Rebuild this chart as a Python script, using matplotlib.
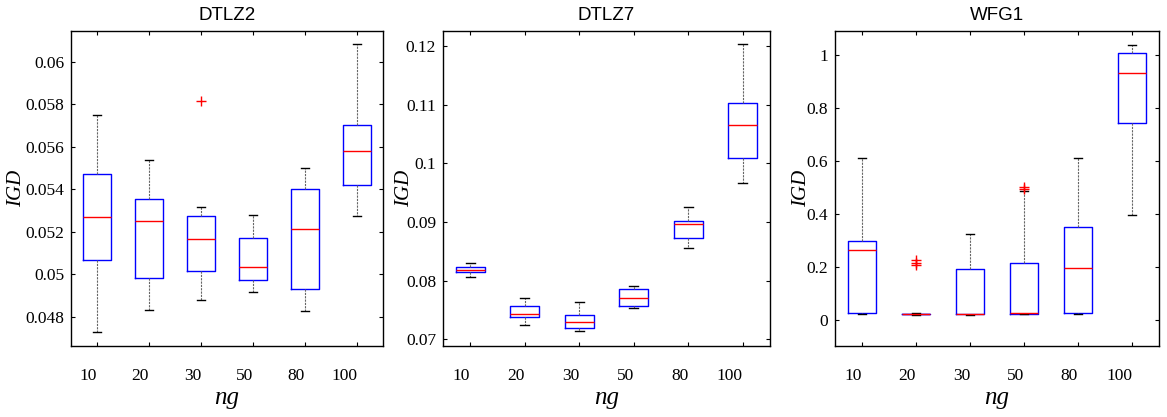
import matplotlib.pyplot as plt
from matplotlib.ticker import FormatStrFormatter

# ng settings shared by every panel
ng_labels = ['10', '20', '30', '50', '80', '100']

# DTLZ2 box statistics
dtlz2_whislo = [0.04729, 0.04833, 0.04879, 0.04916, 0.04828, 0.05273]
dtlz2_q1 = [0.05067, 0.04982, 0.05014, 0.04973, 0.04932, 0.05419]
dtlz2_med = [0.05268, 0.05250, 0.05164, 0.05034, 0.05212, 0.05581]
dtlz2_q3 = [0.05471, 0.05356, 0.05276, 0.05172, 0.05403, 0.05702]
dtlz2_whishi = [0.05749, 0.05538, 0.05318, 0.05281, 0.05501, 0.06083]
dtlz2_fliers = [[], [], [0.05816], [], [], []]

# DTLZ7
dtlz7_whislo = [0.08071, 0.07244, 0.07147, 0.07533, 0.08559, 0.09659]
dtlz7_q1 = [0.08140, 0.07380, 0.07193, 0.07567, 0.08729, 0.10095]
dtlz7_med = [0.08190, 0.07431, 0.07295, 0.07703, 0.08967, 0.10651]
dtlz7_q3 = [0.08241, 0.07567, 0.07414, 0.07850, 0.09018, 0.11036]
dtlz7_whishi = [0.08293, 0.07697, 0.07629, 0.07901, 0.09251, 0.12028]
dtlz7_fliers = [[], [], [], [], [], []]

# WFG1
wfg1_whislo = [0.0226, 0.0200, 0.0190, 0.0226, 0.0240, 0.396]
wfg1_q1 = [0.0276, 0.0226, 0.0226, 0.0250, 0.0276, 0.743]
wfg1_med = [0.2657, 0.0238, 0.0238, 0.0276, 0.1955, 0.931]
wfg1_q3 = [0.2995, 0.0250, 0.1942, 0.2168, 0.3509, 1.0088]
wfg1_whishi = [0.6128, 0.0276, 0.3246, 0.486, 0.6128, 1.0388]
wfg1_fliers = [[], [0.226, 0.218, 0.210], [], [0.501, 0.494], [], []]

titles = ['DTLZ2', 'DTLZ7', 'WFG1']
ylims = [(0.04662, 0.06146), (0.06887, 0.12255), (-0.0965, 1.09)]
yticks = [[0.048, 0.05, 0.052, 0.054, 0.056, 0.058, 0.06],
          [0.07, 0.08, 0.09, 0.1, 0.11, 0.12],
          [0, 0.2, 0.4, 0.6, 0.8, 1]]

panels = [
    (dtlz2_whislo, dtlz2_q1, dtlz2_med, dtlz2_q3, dtlz2_whishi, dtlz2_fliers),
    (dtlz7_whislo, dtlz7_q1, dtlz7_med, dtlz7_q3, dtlz7_whishi, dtlz7_fliers),
    (wfg1_whislo, wfg1_q1, wfg1_med, wfg1_q3, wfg1_whishi, wfg1_fliers),
]

serif = ['Liberation Serif', 'DejaVu Serif']
plt.rcParams['font.family'] = serif

fig = plt.figure(figsize=(11.67, 4.17), dpi=100)
W, H = 1167.0, 417.0
boxes = [(71, 31, 383, 346), (443, 31, 770, 346), (835, 31, 1159, 346)]
ylabel_x = [17, 405, 802]

for k, (lo, q1, med, q3, hi, fl) in enumerate(panels):
    x0, y0, x1, y1 = boxes[k]
    ax = fig.add_axes([x0 / W, 1 - y1 / H, (x1 - x0) / W, (y1 - y0) / H])
    stats = []
    for i in range(len(ng_labels)):
        stats.append(dict(whislo=lo[i], q1=q1[i], med=med[i], q3=q3[i],
                          whishi=hi[i], fliers=fl[i]))
    ax.bxp(stats, positions=range(1, 7), widths=0.53, capwidths=0.16,
           boxprops=dict(color='blue', lw=1.0),
           medianprops=dict(color='red', lw=1.0),
           whiskerprops=dict(color='0.4', lw=0.8, linestyle=(0, (2.0, 1.0))),
           capprops=dict(color='black', lw=1.0),
           flierprops=dict(marker='+', markeredgecolor='red', markersize=7,
                           markeredgewidth=1.0, linestyle='none'))
    ax.set_xlim(0.5, 6.5)
    ax.set_ylim(*ylims[k])
    ax.set_yticks(yticks[k])
    ax.yaxis.set_major_formatter(FormatStrFormatter('%g'))
    ax.set_xticks(range(1, 7))
    ax.set_xticklabels(ng_labels, ha='right')
    ax.tick_params(direction='in', length=3, width=0.8, top=True, right=True,
                   labelsize=12.5)
    ax.tick_params(axis='x', pad=16)
    ax.tick_params(axis='y', pad=5)
    for sp in ax.spines.values():
        sp.set_linewidth(1.0)
    ax.set_title(titles[k], fontsize=13.5, family=['Liberation Sans', 'DejaVu Sans'], pad=8)
    ax.set_xlabel('ng', fontsize=18, style='italic', labelpad=2)
    fig.text(ylabel_x[k] / W, 1 - ((y0 + y1) / 2) / H, 'IGD', rotation=90,
             fontsize=15, style='italic', ha='center', va='center')

fig.savefig('out.png', dpi=100)
